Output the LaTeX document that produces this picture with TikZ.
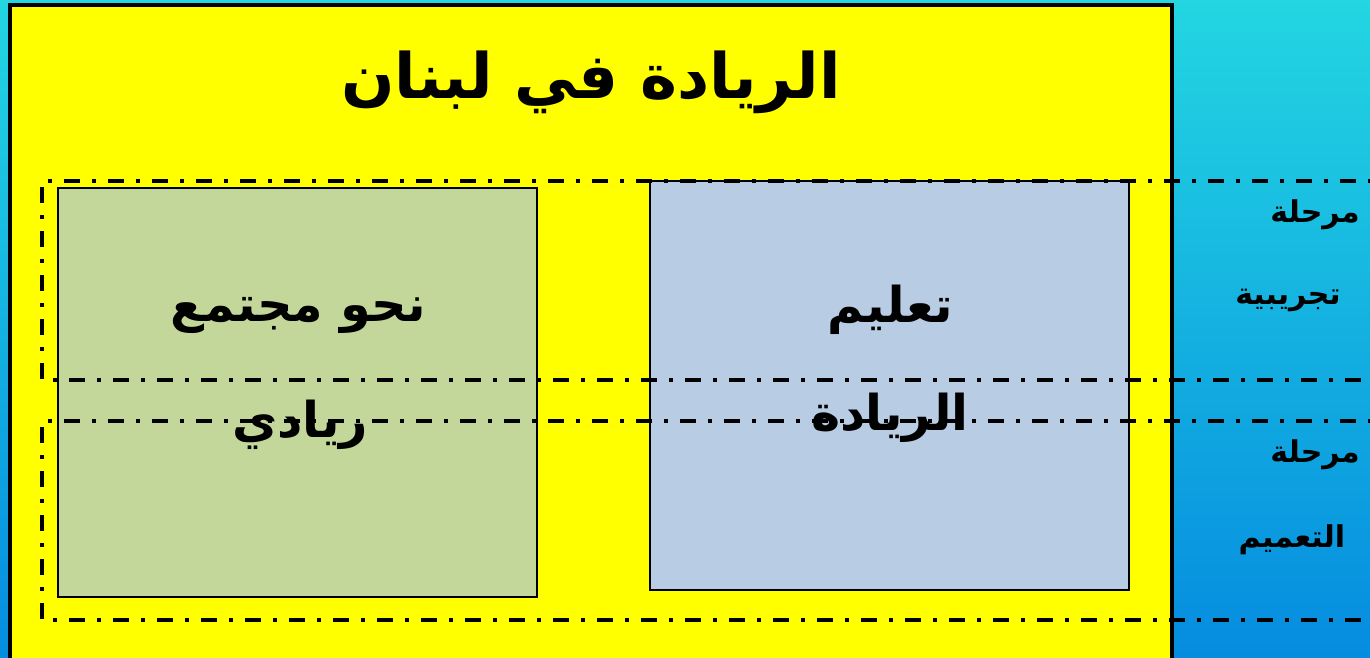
\documentclass[tikz,border=0pt]{standalone}
\usepackage{fontspec}
\newfontfamily\arabicfont[Script=Arabic]{DejaVu Sans}
\TeXXeTstate=1
\begin{document}
\begin{tikzpicture}[x=0.75pt,y=-0.75pt,
  ar/.style={font=\arabicfont\bfseries, text=black, inner sep=0pt},
  dashdotline/.style={line width=2.3pt, dash pattern=on 12pt off 9pt on 3pt off 9pt},
  panel/.style={draw=black, line width=1.7pt}]
\useasboundingbox (0,0) rectangle (1370,657);
\clip (0,0) rectangle (1370,657);
\shade[top color={rgb,255:red,35;green,214;blue,225}, bottom color={rgb,255:red,5;green,140;blue,224}] (0,0) rectangle (1370,657);
\draw[fill={rgb,255:red,255;green,255;blue,0}, line width=2.4pt] (10,5) rectangle (1172,680);
\node[ar, font=\arabicfont\bfseries\fontsize{47}{50}\selectfont] (title) at (591,82) {\beginR الريادة في لبنان\endR};
\path[panel, fill={rgb,255:red,196;green,215;blue,155}] (58,188) rectangle (537,597);
\path[panel, fill={rgb,255:red,184;green,204;blue,228}] (650,181) rectangle (1129,590);
\node[ar, font=\arabicfont\bfseries\fontsize{37}{40}\selectfont] (t1) at (298,315) {\beginR نحو مجتمع\endR};
\node[ar, font=\arabicfont\bfseries\fontsize{37}{40}\selectfont] (t2) at (300,425) {\beginR ريادي\endR};
\node[ar, font=\arabicfont\bfseries\fontsize{37}{40}\selectfont] (t3) at (890,310) {\beginR تعليم\endR};
\node[ar, font=\arabicfont\bfseries\fontsize{37}{40}\selectfont] (t4) at (890,418) {\beginR الريادة\endR};
\draw[dashdotline] (1400,181) -- (42,181) -- (42,380) -- (1400,380);
\draw[dashdotline] (1400,421) -- (42,421) -- (42,620) -- (1400,620);
\node[ar, font=\arabicfont\bfseries\fontsize{22.5}{26}\selectfont] (r1) at (1315,215) {\beginR مرحلة\endR};
\node[ar, font=\arabicfont\bfseries\fontsize{22.5}{26}\selectfont] (r2) at (1288,300) {\beginR تجريبية\endR};
\node[ar, font=\arabicfont\bfseries\fontsize{22.5}{26}\selectfont] (r3) at (1315,455) {\beginR مرحلة\endR};
\node[ar, font=\arabicfont\bfseries\fontsize{22.5}{26}\selectfont] (r4) at (1292,540) {\beginR التعميم\endR};
\end{tikzpicture}
\end{document}
